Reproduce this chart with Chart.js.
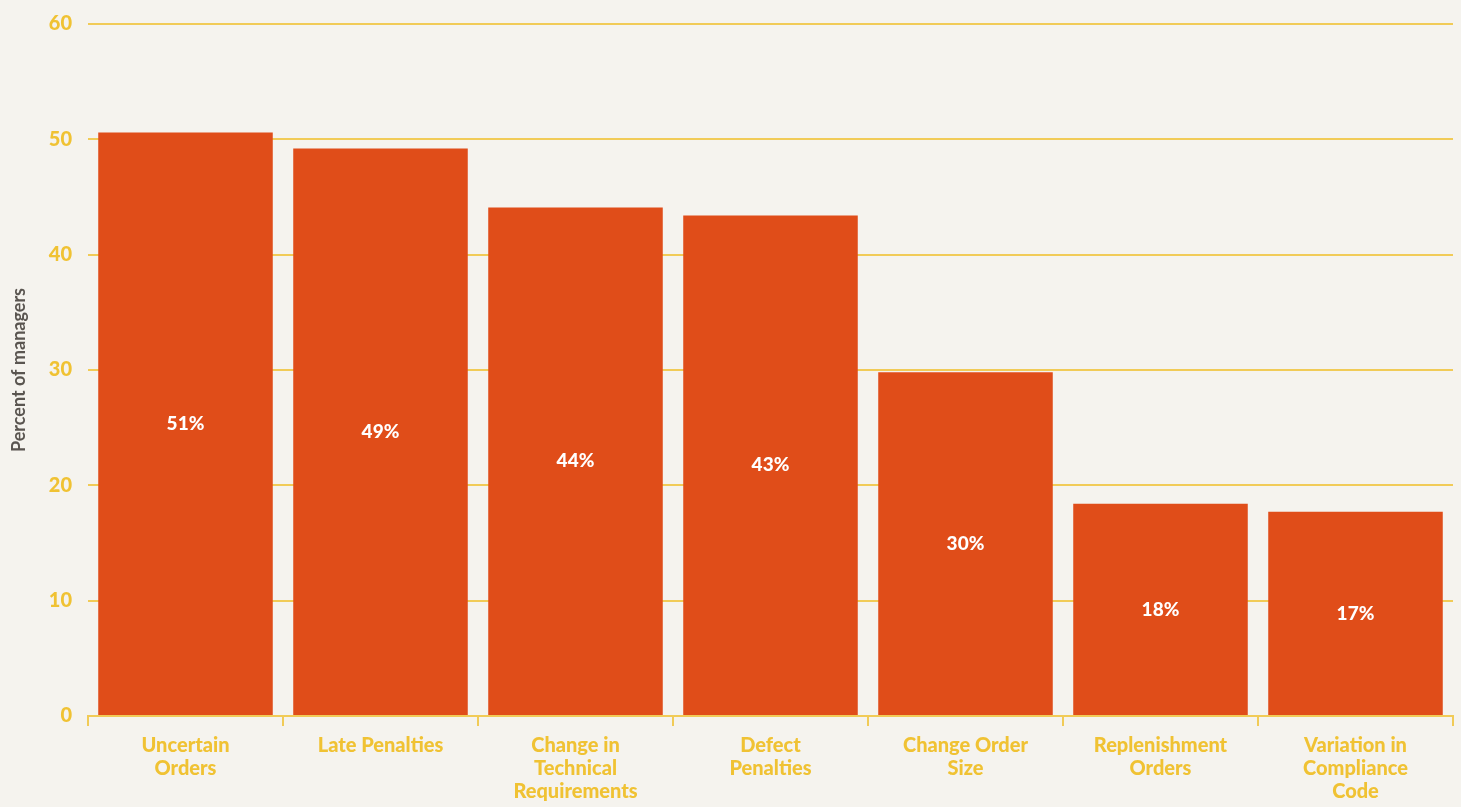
<!DOCTYPE html>
<html>
<head>
<meta charset="utf-8">
<script src="https://cdn.jsdelivr.net/npm/chart.js@4/dist/chart.umd.min.js"></script>
<style>
  html, body { margin: 0; padding: 0; background: #f5f3ee; }
  #wrap { width: 1461px; height: 807px; }
</style>
</head>
<body>
<div id="wrap"><canvas id="chart"></canvas></div>
<script>
const categories = [
  ["Uncertain", "Orders"],
  ["Late Penalties"],
  ["Change in", "Technical", "Requirements"],
  ["Defect", "Penalties"],
  ["Change Order", "Size"],
  ["Replenishment", "Orders"],
  ["Variation in", "Compliance", "Code"]
];
const percentValues = [50.6, 49.2, 44.1, 43.4, 29.8, 18.4, 17.7];
const valueLabels = ["51%", "49%", "44%", "43%", "30%", "18%", "17%"];
const yTicks = [0, 10, 20, 30, 40, 50, 60];

const yellow = "#f0c233";
const gridYellow = "#f1cb57";
const barColor = "#e04d19";
const fontFamily = "Lato, 'Open Sans', sans-serif";

// draws the percent text in the middle of each bar
const barLabels = {
  id: "barLabels",
  afterDatasetsDraw(chart) {
    const ctx = chart.ctx;
    const meta = chart.getDatasetMeta(0);
    ctx.save();
    ctx.fillStyle = "#ffffff";
    ctx.font = "900 19px " + fontFamily;
    ctx.textAlign = "center";
    ctx.textBaseline = "middle";
    meta.data.forEach(function (bar, i) {
      const mid = (bar.y + bar.base) / 2;
      ctx.fillText(valueLabels[i], bar.x, mid);
    });
    ctx.restore();
  }
};

new Chart(document.getElementById("chart"), {
  type: "bar",
  data: {
    labels: categories,
    datasets: [{
      data: percentValues,
      backgroundColor: barColor,
      borderWidth: 0,
      barPercentage: 0.895,
      categoryPercentage: 1.0
    }]
  },
  options: {
    responsive: true,
    maintainAspectRatio: false,
    animation: false,
    layout: { padding: { top: 24, right: 8, left: 0, bottom: 0 } },
    plugins: {
      legend: { display: false },
      tooltip: { enabled: false }
    },
    scales: {
      x: {
        afterFit(scale) { scale.height = 91; scale.paddingLeft = 0; scale.paddingRight = 0; },
        grid: {
          offset: true,
          drawOnChartArea: false,
          drawTicks: true,
          tickLength: 10,
          color: gridYellow,
          lineWidth: 2
        },
        border: { display: true, color: gridYellow, width: 2 },
        ticks: {
          color: yellow,
          padding: 8,
          maxRotation: 0,
          autoSkip: false,
          font: { family: fontFamily, size: 20, weight: "900", lineHeight: 1.15 }
        }
      },
      y: {
        min: 0,
        max: 60,
        afterFit(scale) { scale.width = 88; scale.paddingTop = 0; scale.paddingBottom = 0; },
        afterBuildTicks(scale) { scale.ticks = yTicks.map(v => ({ value: v })); },
        grid: {
          drawTicks: false,
          color: gridYellow,
          lineWidth: 2
        },
        border: { display: false },
        ticks: {
          color: yellow,
          padding: 16,
          font: { family: fontFamily, size: 20, weight: "900", lineHeight: 1 }
        },
        title: {
          display: true,
          text: "Percent of managers",
          color: "#5a5550",
          padding: { top: 8, bottom: 0 },
          font: { family: fontFamily, size: 18, weight: "bold" }
        }
      }
    }
  },
  plugins: [barLabels]
});
</script>
</body>
</html>
